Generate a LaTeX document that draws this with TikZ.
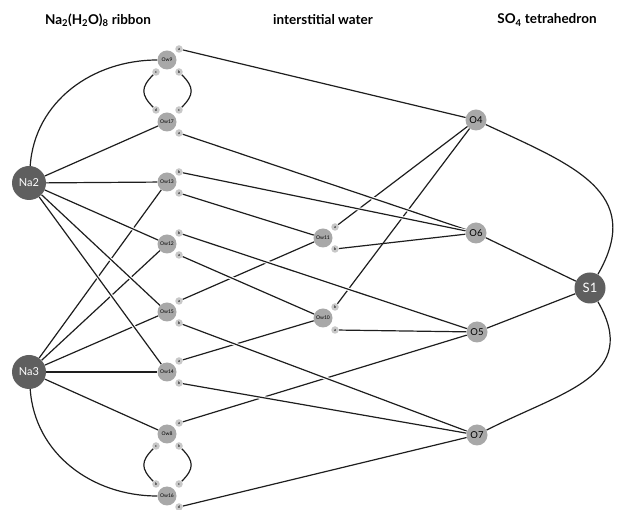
\documentclass[tikz,border=0pt]{standalone}
\usepackage{fontspec}
\setmainfont{Lato}
\usepackage{tikz}
\usetikzlibrary{positioning, calc, backgrounds}
\definecolor{nadark}{RGB}{95,95,95}
\definecolor{owgray}{RGB}{168,168,168}
\definecolor{hgray}{RGB}{200,200,200}
\definecolor{bondc}{RGB}{30,30,30}
\tikzset{
  cation/.style={circle, fill=nadark, text=white, minimum size=34pt,
    inner sep=0pt, font=\fontsize{11}{11}\selectfont},
  sulfur/.style={cation, minimum size=31pt, font=\fontsize{13}{13}\selectfont},
  water/.style={circle, fill=owgray, minimum size=19pt, inner sep=0pt,
    font=\fontsize{5}{5}\selectfont},
  oxy/.style={circle, fill=owgray, minimum size=21pt, inner sep=0pt,
    font=\fontsize{9.5}{9.5}\selectfont},
  hsite/.style={circle, fill=hgray, minimum size=7.5pt, inner sep=0pt,
    font=\fontsize{4}{4}\selectfont},
  bond/.style={draw=bondc, line width=1.2pt},
  overbond/.style={bond, preaction={draw=white, line width=3.4pt}},
  header/.style={font=\bfseries\fontsize{13.5}{13.5}\selectfont}
}

\begin{document}
\begin{tikzpicture}[x=1pt, y=-1pt]
  \useasboundingbox (0,0) rectangle (630,510);
  % column headers
  \node[header] (hribbon) at (98,20) {Na\textsubscript{2}(H\textsubscript{2}O)\textsubscript{8} ribbon};
  \node[header] (hwater) at (323,20) {interstitial water};
  \node[header] (hso4) at (547,20) {SO\textsubscript{4} tetrahedron};
  % sodium cations
  \node[cation] (na2) at (29,183) {Na2};
  \node[cation] (na3) at (29,372) {Na3};
  % ribbon water
  \node[water] (w9) at (167,60) {Ow9};
  \node[water] (w17) at (167,122) {Ow17};
  \node[water] (w13) at (167,182) {Ow13};
  \node[water] (w12) at (167,244) {Ow12};
  \node[water] (w15) at (167,312) {Ow15};
  \node[water] (w14) at (167,372) {Ow14};
  \node[water] (w8) at (167,434) {Ow8};
  \node[water] (w16) at (167,496) {Ow16};
  % interstitial water
  \node[water] (w11) at (323,238) {Ow11};
  \node[water] (w10) at (323,318) {Ow10};
  % sulfate
  \node[oxy] (o4) at (476,120) {O4};
  \node[oxy] (o6) at (476,233) {O6};
  \node[oxy] (o5) at (477,332) {O5};
  \node[oxy] (o7) at (477,435) {O7};
  \node[sulfur] (s1) at (590,288) {S1};
  % hydrogen / acceptor sites
  \node[hsite] (w9a) at ([shift={(12,-11)}]w9) {a};
  \node[hsite] (w9c) at ([shift={(-11,12)}]w9) {c};
  \node[hsite] (w9b) at ([shift={(12,12)}]w9) {b};
  \node[hsite] (w17d) at ([shift={(-11,-12)}]w17) {d};
  \node[hsite] (w17c) at ([shift={(12,-12)}]w17) {c};
  \node[hsite] (w17a) at ([shift={(12,11)}]w17) {a};
  \node[hsite] (w13b) at ([shift={(12,-10)}]w13) {b};
  \node[hsite] (w13a) at ([shift={(12,11)}]w13) {a};
  \node[hsite] (w12b) at ([shift={(12,-11)}]w12) {b};
  \node[hsite] (w12a) at ([shift={(12,11)}]w12) {a};
  \node[hsite] (w15a) at ([shift={(12,-11)}]w15) {a};
  \node[hsite] (w15b) at ([shift={(12,11)}]w15) {b};
  \node[hsite] (w14a) at ([shift={(12,-11)}]w14) {a};
  \node[hsite] (w14b) at ([shift={(12,11)}]w14) {b};
  \node[hsite] (w8a) at ([shift={(12,-11)}]w8) {a};
  \node[hsite] (w8c) at ([shift={(-11,12)}]w8) {c};
  \node[hsite] (w8b) at ([shift={(12,12)}]w8) {b};
  \node[hsite] (w16b) at ([shift={(-11,-12)}]w16) {b};
  \node[hsite] (w16c) at ([shift={(12,-12)}]w16) {c};
  \node[hsite] (w16d) at ([shift={(12,11)}]w16) {d};
  \node[hsite] (w11a) at ([shift={(12,-11)}]w11) {a};
  \node[hsite] (w11b) at ([shift={(12,11)}]w11) {b};
  \node[hsite] (w10b) at ([shift={(12,-11)}]w10) {b};
  \node[hsite] (w10a) at ([shift={(12,12)}]w10) {a};

  \begin{scope}[on background layer]
    % Na coordination
    \draw[bond] (na2) to[out=86, in=180] (w9);
    \draw[bond] (na3) to[out=-86, in=180] (w16);
    \draw[bond] (na2) -- (w17);
    \draw[bond] (na2) -- (w13);
    \draw[bond] (na3) -- (w13);
    \draw[bond] (na3) -- (w12);
    \draw[bond] (na3) -- (w15);
    \draw[bond] (na3) -- (w14);
    % rings
    \draw[bond] (w9c) to[out=-135, in=135, looseness=1.4] (w17d);
    \draw[bond] (w9b) to[out=-45, in=45, looseness=1.4] (w17c);
    \draw[bond] (w8c) to[out=-135, in=135, looseness=1.4] (w16b);
    \draw[bond] (w8b) to[out=-45, in=45, looseness=1.4] (w16c);
    % rising H bonds
    \draw[bond] (w11a) -- (o4);
    \draw[bond] (w10b) -- (o4);
    \draw[bond] (w15a) -- (w11);
    \draw[bond] (w14a) -- (w10);
    \draw[bond] (w8a) -- (o5);
    \draw[bond] (w16d) -- (o7);
    \draw[bond] (w10a) -- (o5);
    \draw[bond] (w11b) -- (o6);
    \draw[bond] (o5) -- (s1);
    % falling bonds over the others
    \draw[overbond] (na2) -- (w12);
    \draw[overbond] (na2) -- (w15);
    \draw[overbond] (na2) -- (w14);
    \draw[overbond] (na3) -- (w8);
    \draw[overbond] (w9a) -- (o4);
    \draw[overbond] (w17a) -- (o6);
    \draw[overbond] (w13b) -- (o6);
    \draw[overbond] (w13a) -- (w11);
    \draw[overbond] (w12b) -- (o5);
    \draw[overbond] (w12a) -- (w10);
    \draw[overbond] (w15b) -- (o7);
    \draw[overbond] (w14b) -- (o7);
    \draw[overbond] (o6) -- (s1);
    % S-O arcs
    \draw[bond] (o4) to[out=-25, in=60, looseness=1.3] (s1);
    \draw[bond] (s1) to[out=-60, in=27, looseness=1.3] (o7);
  \end{scope}
\end{tikzpicture}
\end{document}
